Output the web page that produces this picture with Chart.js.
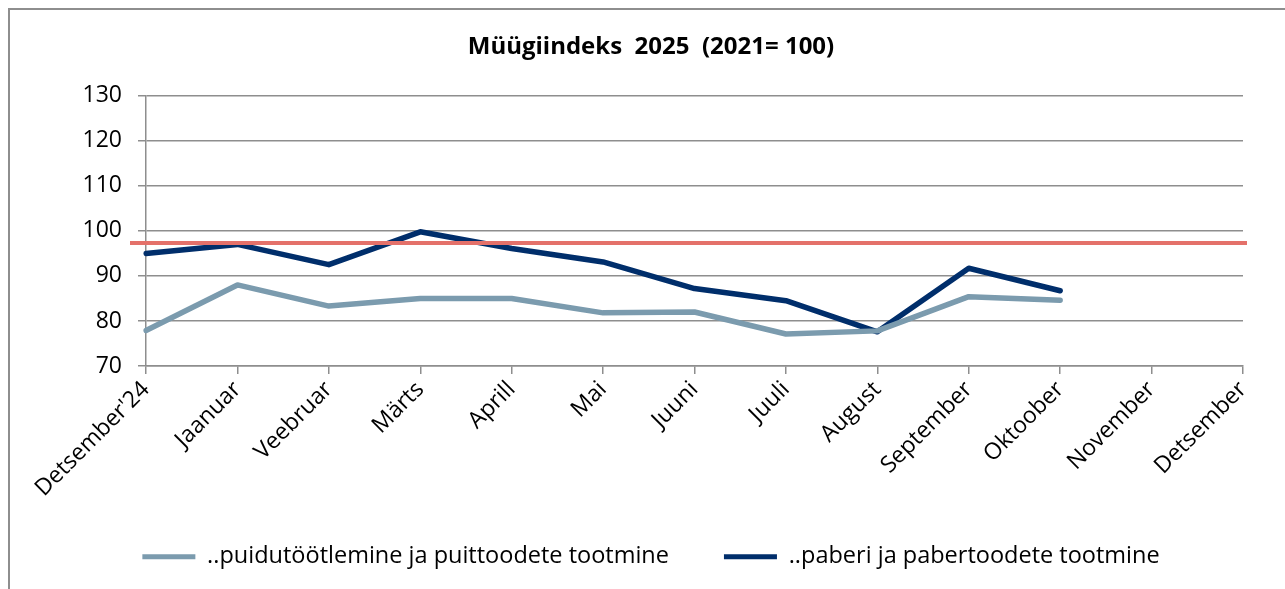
<!DOCTYPE html>
<html lang="et">
<head>
    <meta charset="UTF-8">
    <title>Müügiindeks 2025</title>
    <script src="https://cdn.jsdelivr.net/npm/chart.js@4/dist/chart.umd.min.js"></script>
    <style>
        html, body { margin: 0; padding: 0; background: #fff; }
        #raam {
            position: absolute; left: 8px; top: 8px; width: 1300px; height: 600px;
            border-left: 2px solid #8e8e8e; border-top: 2px solid #8e8e8e;
        }
        #wrap { position: absolute; left: 0; top: 0; width: 1285px; height: 589px; }
    </style>
</head>
<body>
    <div id="raam"></div>
    <div id="wrap"><canvas id="graafik"></canvas></div>
    <script>
        // andmed (loetud pildilt)
        const kuud = ["Detsember'24", "Jaanuar", "Veebruar", "Märts", "Aprill", "Mai", "Juuni",
                      "Juuli", "August", "September", "Oktoober", "November", "Detsember"];
        const puit = [77.9, 88.0, 83.3, 85.0, 85.0, 81.8, 82.0, 77.1, 77.8, 85.4, 84.6, null, null];
        const paber = [95.0, 97.0, 92.5, 99.8, 96.1, 93.1, 87.2, 84.5, 77.6, 91.7, 86.7, null, null];
        const punaneJoon = [97.3];
        const yTicks = [70, 80, 90, 100, 110, 120, 130];

        const font = "Open Sans";
        const hall = "#8e8e8e";

        // punane horisontaaljoon, veidi üle joonise servade nagu Excelis
        const joonPlugin = {
            id: 'punaneJoon',
            afterLayout(chart) {
                // legend veidi kõrgemale (x-telje sildid jäävad oma kasti sisse)
                chart.legend.top -= 18;
                chart.legend.bottom -= 18;
            },
            afterDatasetsDraw(chart) {
                const ctx = chart.ctx;
                const y = chart.scales.y.getPixelForValue(punaneJoon[0]);
                ctx.save();
                ctx.strokeStyle = '#e4716a';
                ctx.lineWidth = 4;
                ctx.beginPath();
                ctx.moveTo(chart.chartArea.left - 16, y);
                ctx.lineTo(chart.chartArea.right + 4, y);
                ctx.stroke();
                ctx.restore();
            }
        };

        new Chart(document.getElementById('graafik'), {
            type: 'line',
            data: {
                labels: kuud,
                datasets: [
                    {
                        label: '..puidutöötlemine ja puittoodete tootmine',
                        data: puit,
                        borderColor: '#7b9bae',
                        backgroundColor: '#7b9bae',
                        borderWidth: 5.5,
                        pointRadius: 0,
                        tension: 0,
                        borderCapStyle: 'round',
                        borderJoinStyle: 'round'
                    },
                    {
                        label: '..paberi ja pabertoodete tootmine',
                        data: paber,
                        borderColor: '#002e6b',
                        backgroundColor: '#002e6b',
                        borderWidth: 5.5,
                        pointRadius: 0,
                        tension: 0,
                        borderCapStyle: 'round',
                        borderJoinStyle: 'round'
                    }
                ]
            },
            options: {
                responsive: true,
                maintainAspectRatio: false,
                animation: false,
                events: [],
                layout: { padding: { left: 17, right: 0, top: 0, bottom: 0 } },
                plugins: {
                    tooltip: { enabled: false },
                    title: {
                        display: true,
                        text: 'Müügiindeks  2025  (2021= 100)',
                        color: '#000',
                        font: { family: font, size: 24, weight: 'bold' },
                        padding: { top: 33, bottom: 34 }
                    },
                    legend: {
                        position: 'bottom',
                        maxHeight: 81,
                        labels: {
                            color: '#000',
                            font: { family: font, size: 23.5 },
                            boxWidth: 53,
                            boxHeight: 5,
                            padding: 55,
                            generateLabels(chart) {
                                return chart.data.datasets.map((ds, i) => ({
                                    text: ds.label,
                                    fillStyle: ds.borderColor,
                                    strokeStyle: ds.borderColor,
                                    lineWidth: 0,
                                    fontColor: '#000',
                                    datasetIndex: i
                                }));
                            }
                        }
                    }
                },
                scales: {
                    x: {
                        offset: false,
                        grid: { drawOnChartArea: false, drawTicks: true, tickLength: 8, color: hall, lineWidth: 1.5 },
                        border: { color: hall, width: 1.5 },
                        ticks: {
                            autoSkip: false,
                            maxRotation: 45,
                            minRotation: 45,
                            color: '#000',
                            padding: 2,
                            font: { family: font, size: 23 }
                        },
                        afterFit(scale) {
                            scale.height = 142;
                            scale.paddingRight = 42;
                        }
                    },
                    y: {
                        min: 70,
                        max: 130,
                        afterBuildTicks(scale) {
                            scale.ticks = yTicks.map(v => ({ value: v }));
                        },
                        grid: { color: hall, lineWidth: 1.5, tickLength: 8 },
                        border: { color: hall, width: 1.5 },
                        ticks: {
                            color: '#000',
                            padding: 16,
                            font: { family: font, size: 23 }
                        },
                        afterFit(scale) {
                            scale.width = 129;
                        }
                    }
                }
            },
            plugins: [joonPlugin]
        });
    </script>
</body>
</html>
